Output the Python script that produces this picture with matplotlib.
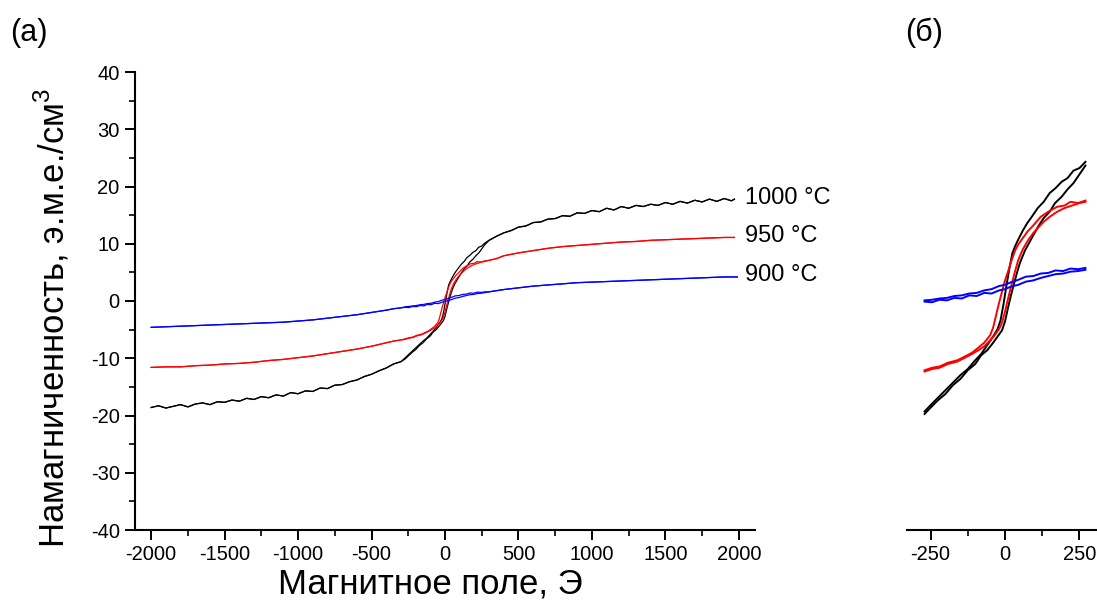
import matplotlib
matplotlib.use("Agg")
import matplotlib.pyplot as plt
import numpy as np
from matplotlib.ticker import MultipleLocator

plt.rcParams["font.family"] = ["Liberation Sans", "DejaVu Sans"]
plt.rcParams["mathtext.fontset"] = "custom"
plt.rcParams["mathtext.rm"] = "Liberation Sans"
plt.rcParams["axes.unicode_minus"] = False

# ---- high-field parts (same for both sweep directions) ----
h_neg_black = [-2000, -1950, -1900, -1850, -1800, -1750, -1700, -1650, -1600, -1550,
               -1500, -1450, -1400, -1350, -1300, -1250, -1200, -1150, -1100, -1050,
               -1000, -950, -900, -850, -800, -750, -700, -650, -600, -550,
               -500, -450, -400, -350, -300]
m_neg_black = [-18.6, -18.3, -18.7, -18.4, -18.1, -18.5, -18.0, -17.8, -18.1, -17.6,
               -17.7, -17.3, -17.5, -17.0, -17.2, -16.7, -16.9, -16.4, -16.6, -16.0,
               -16.2, -15.7, -15.8, -15.2, -15.3, -14.7, -14.6, -14.1, -13.8, -13.2,
               -12.8, -12.2, -11.7, -11.0, -10.6]
h_pos_black = [300, 350, 400, 450, 500, 550, 600, 650, 700, 750, 800,
               850, 900, 950, 1000, 1050, 1100, 1150, 1200, 1250, 1300,
               1350, 1400, 1450, 1500, 1550, 1600, 1650, 1700, 1750, 1800,
               1850, 1900, 1950, 1970]
m_pos_black = [10.6, 11.3, 11.9, 12.3, 12.9, 13.1, 13.7, 13.8, 14.3, 14.4, 14.9,
               14.8, 15.4, 15.3, 15.8, 15.6, 16.2, 15.9, 16.5, 16.2, 16.7,
               16.5, 16.9, 16.7, 17.2, 16.9, 17.4, 17.1, 17.6, 17.3, 17.8,
               17.4, 17.9, 17.5, 17.8]

h_neg_red = [-2000, -1900, -1800, -1700, -1600, -1500, -1400, -1300, -1200, -1100,
             -1000, -900, -800, -700, -600, -500, -400, -350, -300]
m_neg_red = [-11.6, -11.5, -11.5, -11.3, -11.2, -11.0, -10.9, -10.7, -10.4, -10.2,
             -9.9, -9.6, -9.2, -8.8, -8.4, -7.9, -7.3, -7.0, -6.8]
h_pos_red = [300, 350, 400, 500, 600, 700, 800, 900, 1000, 1100, 1200,
             1300, 1400, 1500, 1600, 1700, 1800, 1900, 1970]
m_pos_red = [7.1, 7.4, 7.9, 8.4, 8.8, 9.2, 9.5, 9.7, 9.9, 10.1, 10.3,
             10.4, 10.6, 10.7, 10.8, 10.9, 11.0, 11.1, 11.1]

h_neg_blue = [-2000, -1900, -1800, -1700, -1600, -1500, -1400, -1300, -1200, -1100,
              -1000, -900, -800, -700, -600, -500, -400, -350, -300]
m_neg_blue = [-4.6, -4.5, -4.4, -4.3, -4.2, -4.1, -4.0, -3.9, -3.8, -3.7,
              -3.5, -3.3, -3.0, -2.7, -2.4, -2.0, -1.6, -1.35, -1.2]
h_pos_blue = [300, 350, 400, 500, 600, 700, 800, 900, 1000, 1100, 1200,
              1300, 1400, 1500, 1600, 1700, 1800, 1900, 1990]
m_pos_blue = [1.6, 1.8, 2.0, 2.3, 2.6, 2.8, 3.0, 3.2, 3.3, 3.4, 3.5,
              3.6, 3.7, 3.8, 3.9, 4.0, 4.1, 4.2, 4.2]

# ---- low-field loops (descending / ascending branches) ----
h_black_desc = [270, 250, 230, 210, 190, 170, 150, 130, 110, 90, 75, 60, 45, 35, 25, 15, 5,
                -5, -15, -25, -40, -60, -80, -100, -125, -150, -175, -200, -225, -250, -270]
m_black_desc = [10.1, 9.6, 9.4, 8.8, 8.5, 8.0, 7.6, 6.9, 6.4, 5.7, 5.2, 4.6, 3.9, 3.4, 2.8, 1.6, 0.2,
                -1.3, -2.6, -3.3, -3.9, -4.6, -5.3, -5.8, -6.5, -7.0, -7.6, -8.2, -8.8, -9.4, -9.9]
h_black_asc = [-270, -250, -225, -200, -175, -150, -125, -100, -80, -60, -40, -25, -10, 0, 10,
               20, 30, 40, 50, 67, 90, 111, 130, 150, 168, 190, 210, 230, 250, 270]
m_black_asc = [-10.1, -9.6, -9.0, -8.5, -7.8, -7.3, -6.6, -6.1, -5.4, -5.0, -4.4, -3.9, -3.4, -2.7, -1.6,
               -0.6, 0.3, 1.2, 2.0, 3.0, 4.0, 4.9, 5.6, 6.1, 6.8, 7.3, 7.9, 8.4, 9.1, 9.8]

h_red_desc = [270, 245, 220, 200, 175, 145, 120, 91, 75, 60, 45, 34, 22, 10, 0,
              -10, -20, -30, -40, -50, -70, -90, -111, -135, -160, -192, -220, -245, -270]
m_red_desc = [7.0, 6.8, 6.9, 6.6, 6.5, 6.1, 5.7, 4.9, 4.5, 4.0, 3.5, 3.0, 2.2, 1.3, 0.6,
              -0.3, -1.2, -2.2, -3.2, -3.8, -4.4, -4.8, -5.2, -5.5, -5.8, -6.0, -6.3, -6.4, -6.6]
h_red_asc = [-270, -245, -220, -192, -160, -135, -111, -90, -70, -50, -35, -20, -10, 0,
             15, 30, 44, 60, 77, 95, 110, 130, 150, 175, 200, 225, 250, 270]
m_red_asc = [-6.7, -6.5, -6.4, -6.1, -5.9, -5.6, -5.3, -5.0, -4.7, -4.2, -3.8, -3.3, -2.8, -1.9,
             -0.4, 1.0, 2.2, 3.1, 3.8, 4.4, 4.8, 5.3, 5.7, 6.1, 6.4, 6.6, 6.8, 6.9]

h_blue_desc = [270, 245, 220, 195, 170, 145, 120, 95, 70, 45, 20, 0,
               -20, -45, -70, -95, -120, -145, -170, -195, -220, -245, -270]
m_blue_desc = [1.6, 1.5, 1.55, 1.35, 1.4, 1.2, 1.15, 0.95, 0.9, 0.65, 0.45, 0.25,
               0.15, -0.1, -0.2, -0.4, -0.45, -0.6, -0.65, -0.8, -0.85, -0.95, -1.0]
h_blue_asc = [-270, -245, -220, -195, -170, -145, -120, -95, -70, -45, -20, 0,
              20, 45, 70, 95, 120, 145, 170, 195, 220, 245, 270]
m_blue_asc = [-1.1, -1.15, -0.95, -1.0, -0.8, -0.85, -0.6, -0.65, -0.4, -0.45, -0.2, -0.1,
              0.1, 0.25, 0.5, 0.6, 0.8, 0.95, 1.1, 1.15, 1.3, 1.35, 1.45]

labels = ["1000 °C", "950 °C", "900 °C"]
label_y = [18.0, 11.4, 4.5]

samples = [
    ("black", h_neg_black, m_neg_black, h_pos_black, m_pos_black,
     h_black_desc, m_black_desc, h_black_asc, m_black_asc),
    ("#ff0000", h_neg_red, m_neg_red, h_pos_red, m_pos_red,
     h_red_desc, m_red_desc, h_red_asc, m_red_asc),
    ("#0000ff", h_neg_blue, m_neg_blue, h_pos_blue, m_pos_blue,
     h_blue_desc, m_blue_desc, h_blue_asc, m_blue_asc),
]

fig = plt.figure(figsize=(10.97, 6.05), dpi=100)
ax1 = fig.add_axes([135 / 1097, 75 / 605, 620 / 1097, 458 / 605])
ax2 = fig.add_axes([907 / 1097, 75 / 605, 196 / 1097, 458 / 605])

for color, hn, mn, hp, mp, hd, md, ha, ma in samples:
    # full sweep on panel (a): both branches share the high-field parts
    ax1.plot(np.concatenate([hn, ha, hp]), np.concatenate([mn, ma, mp]), color=color, lw=0.9)
    ax1.plot(np.concatenate([hp[::-1], hd, hn[::-1]]), np.concatenate([mp[::-1], md, mn[::-1]]),
             color=color, lw=0.9)
    # low-field loop on panel (б)
    ax2.plot(hd, md, color=color, lw=1.4)
    ax2.plot(ha, ma, color=color, lw=1.4)

for text, y in zip(labels, label_y):
    ax1.text(2040, y, text, fontsize=17, va="center", ha="left")

ax1.set_xlim(-2110, 2110)
ax1.set_ylim(-40, 40)
ax1.xaxis.set_major_locator(MultipleLocator(500))
ax1.xaxis.set_minor_locator(MultipleLocator(250))
ax1.yaxis.set_major_locator(MultipleLocator(10))
ax1.yaxis.set_minor_locator(MultipleLocator(5))
ax1.set_xlabel("Магнитное поле, Э", fontsize=25, va="center")
ax1.xaxis.set_label_coords((430 - 135) / 620, (530 - 584) / 458)
ax1.set_ylabel("Намагниченность, э.м.е./см$^{\\mathregular{3}}$", fontsize=25, va="center")
ax1.yaxis.set_label_coords((52 - 135) / 620, (530 - 318) / 458)

ax2.set_xlim(-329, 329)
ax2.set_ylim(-19.4, 17.3)
ax2.xaxis.set_major_locator(MultipleLocator(250))
ax2.xaxis.set_minor_locator(MultipleLocator(125))
ax2.set_yticks([])
ax2.spines["left"].set_visible(False)

for ax in (ax1, ax2):
    ax.spines["top"].set_visible(False)
    ax.spines["right"].set_visible(False)
    for s in ax.spines.values():
        s.set_linewidth(1.5)
    ax.tick_params(which="major", direction="out", length=7, width=1.4, labelsize=14.5, pad=4)
    ax.tick_params(which="minor", direction="out", length=4, width=1.2)

fig.text(10 / 1097, 1 - 33 / 605, "(a)", fontsize=22, va="center", ha="left")
fig.text(905 / 1097, 1 - 33 / 605, "(б)", fontsize=22, va="center", ha="left")

fig.savefig("out.png", dpi=100)
